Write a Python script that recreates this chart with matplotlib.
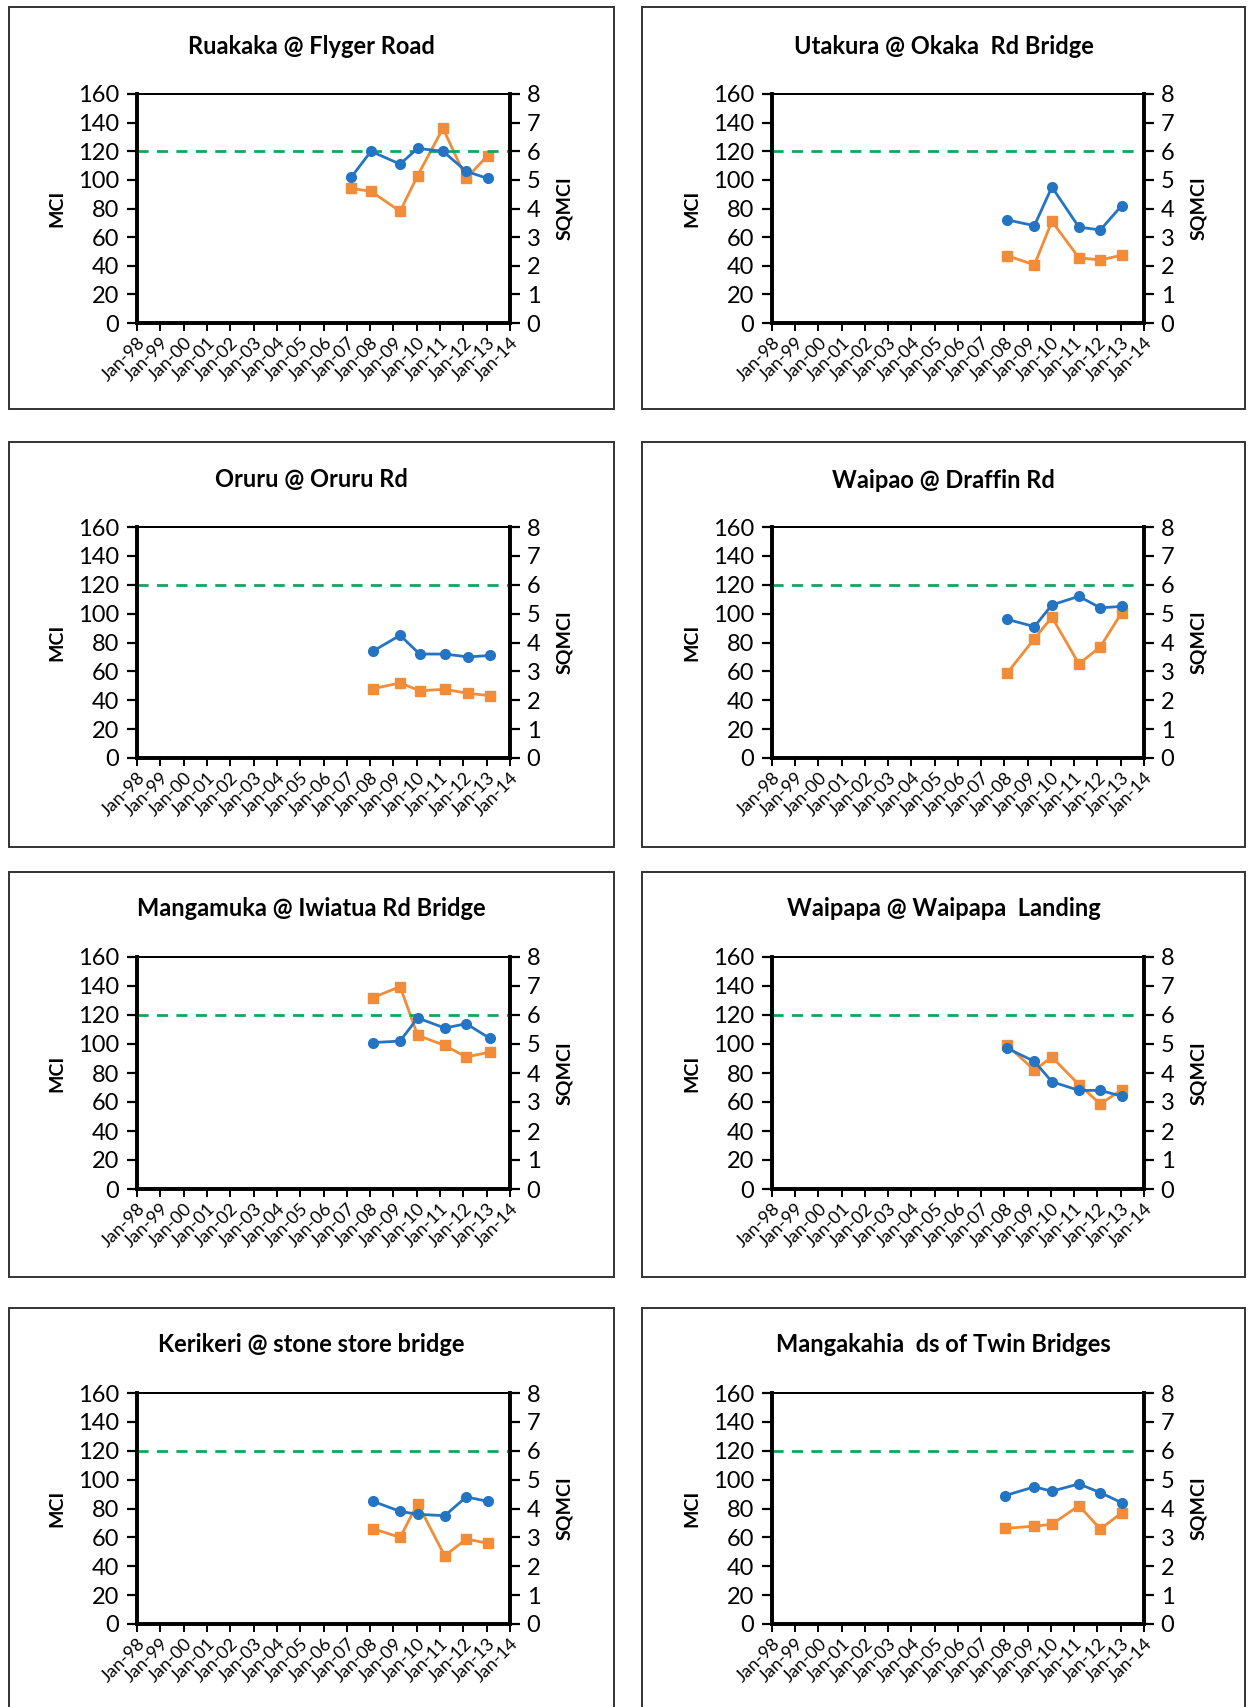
import datetime as dt

import matplotlib

matplotlib.use("Agg")
import matplotlib.pyplot as plt
from matplotlib.patches import Rectangle

plt.rcParams["font.family"] = ["Lato", "DejaVu Sans"]

BLUE = "#2474C4"
ORANGE = "#F28C38"
GREEN = "#17A35F"

# site titles, in reading order (row by row, left then right)
sites = [
    "Ruakaka @ Flyger Road",
    "Utakura @ Okaka  Rd Bridge",
    "Oruru @ Oruru Rd",
    "Waipao @ Draffin Rd",
    "Mangamuka @ Iwiatua Rd Bridge",
    "Waipapa @ Waipapa  Landing",
    "Kerikeri @ stone store bridge",
    "Mangakahia  ds of Twin Bridges",
]

# sample dates (year-month) per site
dates = [
    ["2007-03", "2008-01", "2009-04", "2010-01", "2011-02", "2012-02", "2013-01"],
    ["2008-02", "2009-04", "2010-01", "2011-03", "2012-02", "2013-01"],
    ["2008-02", "2009-04", "2010-02", "2011-03", "2012-03", "2013-02"],
    ["2008-02", "2009-04", "2010-01", "2011-03", "2012-02", "2013-01"],
    ["2008-02", "2009-04", "2010-01", "2011-03", "2012-02", "2013-02"],
    ["2008-02", "2009-04", "2010-01", "2011-03", "2012-02", "2013-01"],
    ["2008-02", "2009-04", "2010-01", "2011-03", "2012-02", "2013-01"],
    ["2008-01", "2009-04", "2010-01", "2011-03", "2012-02", "2013-01"],
]

mci = [
    [102, 120, 111, 122, 120, 106, 101],
    [72, 68, 95, 67, 65, 82],
    [74, 85, 72, 72, 70, 71],
    [96, 91, 106, 112, 104, 105],
    [101, 102, 118, 111, 114, 104],
    [97, 88, 74, 68, 68, 64],
    [85, 78, 76, 75, 88, 85],
    [89, 95, 92, 97, 91, 84],
]

sqmci = [
    [4.7, 4.6, 3.9, 5.15, 6.8, 5.05, 5.85],
    [2.35, 2.03, 3.55, 2.28, 2.2, 2.37],
    [2.4, 2.6, 2.33, 2.38, 2.24, 2.16],
    [2.95, 4.13, 4.88, 3.26, 3.85, 5.03],
    [6.6, 6.98, 5.3, 4.95, 4.55, 4.72],
    [4.95, 4.1, 4.55, 3.6, 2.93, 3.42],
    [3.3, 3.0, 4.17, 2.36, 2.94, 2.8],
    [3.31, 3.39, 3.45, 4.1, 3.29, 3.85],
]

guideline_mci = 120
years = list(range(1998, 2015))
year_labels = [f"Jan-{y % 100:02d}" for y in years]

W, H = 1250, 1707
fig = plt.figure(figsize=(W / 100, H / 100), dpi=100)
fig.patch.set_facecolor("white")

# pixel layout of the panels
col_box = [(9, 614), (642, 1245)]
col_ax = [(137, 510), (772, 1144)]
row_box = [(7, 409), (442, 847), (872, 1277), (1308, 1740)]
row_ax = [(94, 323), (527, 758), (957, 1189), (1393, 1624)]
row_title = [47, 480, 908, 1345]


def fx(px):
    return px / W


def fy(py):
    return 1 - py / H


for i, name in enumerate(sites):
    r, c = divmod(i, 2)
    bx0, bx1 = col_box[c]
    by0, by1 = row_box[r]
    fig.patches.append(
        Rectangle((fx(bx0), fy(by1)), fx(bx1 - bx0), (by1 - by0) / H,
                  transform=fig.transFigure, fill=False, edgecolor="#333333", linewidth=1.4)
    )
    fig.text(fx((bx0 + bx1) / 2), fy(row_title[r]), name, ha="center", va="center",
             fontsize=17, fontweight="bold")

    ax0, ax1 = col_ax[c]
    ay0, ay1 = row_ax[r]
    ax = fig.add_axes([fx(ax0), fy(ay1), fx(ax1 - ax0), (ay1 - ay0) / H])
    ax2 = ax.twinx()

    x = [dt.datetime.strptime(d, "%Y-%m") + dt.timedelta(days=14) for d in dates[i]]

    ax.axhline(guideline_mci, color=GREEN, linestyle=(0, (4, 3)), linewidth=2.0, zorder=1)
    ax.plot(x, mci[i], color=BLUE, marker="o", markersize=7, linewidth=2.0, zorder=4)
    ax2.plot(x, sqmci[i], color=ORANGE, marker="s", markersize=6.5, linewidth=2.0, zorder=3)

    ax.set_xlim(dt.datetime(1998, 1, 1), dt.datetime(2014, 1, 1))
    ax.set_ylim(0, 160)
    ax2.set_ylim(0, 8)
    ax.set_yticks(range(0, 161, 20))
    ax2.set_yticks(range(0, 9))
    ax.set_xticks([dt.datetime(y, 1, 1) for y in years])
    ax.set_xticklabels(year_labels, rotation=45, ha="right", rotation_mode="anchor", fontsize=13)

    ax.tick_params(axis="y", labelsize=17, length=7, width=1.6, direction="out", pad=6)
    ax2.tick_params(axis="y", labelsize=17, length=7, width=1.6, direction="out", pad=5)
    ax.tick_params(axis="x", length=6, width=1.4, direction="out", pad=2)

    for a in (ax, ax2):
        for side in ("left", "right", "bottom"):
            a.spines[side].set_linewidth(2.6)
        a.spines["top"].set_linewidth(1.4)

    ax.set_ylabel("MCI", fontsize=14, fontweight="bold", labelpad=9)
    ax2.set_ylabel("SQMCI", fontsize=14, fontweight="bold", labelpad=11)

    ax.set_zorder(ax2.get_zorder() + 1)
    ax.patch.set_visible(False)

fig.savefig("out.png", dpi=100, facecolor="white")
